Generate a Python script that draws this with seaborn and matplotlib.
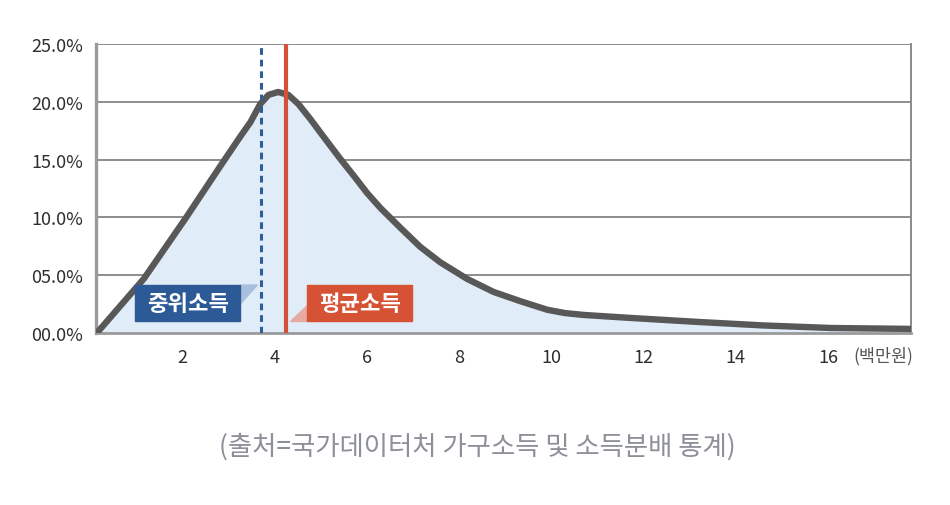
import matplotlib.pyplot as plt
import seaborn as sns
import pandas as pd
from matplotlib.patches import Rectangle, Polygon

# Household income distribution
income = [0.15, 1.17, 2.07, 2.82, 3.26, 3.48, 3.69, 3.87, 4.08, 4.30, 4.52, 4.78,
          5.06, 5.43, 5.71, 6.01, 6.3, 6.73, 7.16, 7.6, 8.18, 8.75, 9.33, 9.92,
          10.3, 10.7, 11.72, 13.2, 14.6, 16.06, 17.8]
share = [0.0, 4.7, 9.9, 14.4, 17.0, 18.25, 19.8, 20.6, 20.85, 20.6, 19.8, 18.5,
         17.0, 15.05, 13.65, 12.1, 10.8, 9.1, 7.45, 6.1, 4.67, 3.55, 2.75, 2.0,
         1.72, 1.56, 1.3, 0.95, 0.65, 0.43, 0.35]
median_income = 3.71
mean_income = 4.25
x_ticks = [2, 4, 6, 8, 10, 12, 14, 16]
y_ticks = [0, 5, 10, 15, 20, 25]
y_labels = ['00.0%', '05.0%', '10.0%', '15.0%', '20.0%', '25.0%']

df = pd.DataFrame({'income': income, 'share': share})

sns.set_theme(style='white')
plt.rcParams['font.family'] = ['Noto Sans CJK KR', 'DejaVu Sans']

fig = plt.figure(figsize=(9.5, 5.06), dpi=100)
ax = fig.add_axes([0.101, 0.34, 0.858, 0.571])

# grid lines
for y in y_ticks[1:]:
    ax.axhline(y, color='#7a7a7a', linewidth=1.2, zorder=1)

# area + curve
ax.fill_between(df['income'], df['share'], color='#e0ecf8', zorder=2)
sns.lineplot(data=df, x='income', y='share', color='#585858', linewidth=4.6,
             solid_joinstyle='round', solid_capstyle='round', ax=ax, zorder=4)

# median / mean markers
ax.axvline(median_income, color='#2f5d98', linewidth=2.2, linestyle=(0, (2.2, 1.6)), zorder=5)
ax.axvline(mean_income, color='#d4503a', linewidth=3.0, zorder=5)

# label boxes
ax.add_patch(Polygon([(3.26, 4.15), (3.63, 4.15), (3.26, 2.51)], closed=True,
                     color='#a8c0de', zorder=6))
ax.add_patch(Rectangle((0.98, 1.04), 2.28, 3.11, color='#2c5a97', zorder=6))
ax.text(2.12, 2.55, '중위소득', color='white', fontsize=16, fontweight='bold',
        ha='center', va='center', zorder=7)

ax.add_patch(Polygon([(4.34, 1.04), (4.71, 1.04), (4.71, 2.42)], closed=True,
                     color='#e6aaa3', zorder=6))
ax.add_patch(Rectangle((4.71, 1.04), 2.28, 3.11, color='#d65234', zorder=6))
ax.text(5.85, 2.55, '평균소득', color='white', fontsize=16, fontweight='bold',
        ha='center', va='center', zorder=7)

ax.set_xlim(0.13, 17.8)
ax.set_ylim(0, 25)
ax.set_xticks(x_ticks)
ax.set_xticklabels([str(t) for t in x_ticks])
ax.set_yticks(y_ticks)
ax.set_yticklabels(y_labels)
ax.tick_params(axis='both', length=0, labelsize=13, labelcolor='#2e2e2e')
ax.tick_params(axis='x', pad=11)
ax.tick_params(axis='y', pad=9)
ax.set_xlabel('')
ax.set_ylabel('')

ax.spines['top'].set_visible(False)
ax.spines['left'].set_color('#9a9a9a')
ax.spines['left'].set_linewidth(2.4)
ax.spines['bottom'].set_color('#9a9a9a')
ax.spines['bottom'].set_linewidth(2.0)
ax.spines['right'].set_color('#8a8a8a')
ax.spines['right'].set_linewidth(1.4)

ax.text(17.85, -1.95, '(백만원)', fontsize=12.5, color='#555555', ha='right', va='center')

fig.text(0.502, 0.117, '(출처=국가데이터처 가구소득 및 소득분배 통계)', fontsize=19,
         color='#8e9099', ha='center', va='center')

plt.savefig('out.png', dpi=100)
